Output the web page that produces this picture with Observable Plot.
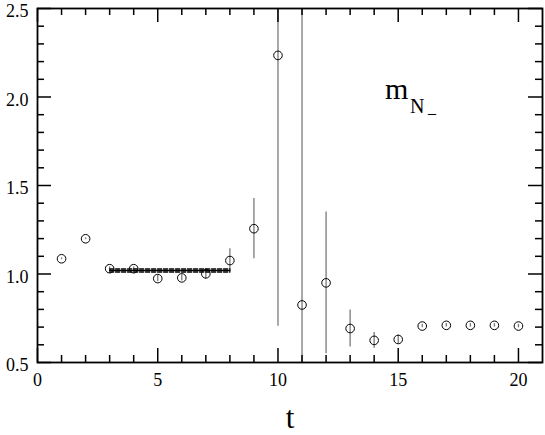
<!DOCTYPE html>
<html><head><meta charset="utf-8">
<script src="https://cdn.jsdelivr.net/npm/d3@7"></script>
<script src="https://cdn.jsdelivr.net/npm/@observablehq/plot@0.6"></script>
<style>body{margin:0;background:#fff} svg text{font-family:"Times New Roman","Liberation Serif","DejaVu Serif",Times,serif !important;}</style>
</head><body><div id="chart"></div>
<script>
const tValues = [1,2,3,4,5,6,7,8,9,10,11,12,13,14,15,16,17,18,19,20];
const mValues = [1.086,1.199,1.030,1.030,0.974,0.978,1.001,1.076,1.256,2.235,0.825,0.950,0.692,0.625,0.630,0.706,0.710,0.710,0.710,0.706];
const mErrors = [0.005,0.005,0.010,0.010,0.018,0.018,0.030,0.066,0.170,1.530,2.000,0.400,0.105,0.045,0.025,0.010,0.010,0.010,0.010,0.010];
const fitRange = [3, 8];
const fitValue = 1.020;
const fitError = 0.008;
const xMajorTicks = [0,5,10,15,20];
const xMinorTicks = [1,2,3,4,6,7,8,9,11,12,13,14,16,17,18,19];
const yMajorTicks = [0.5,1.0,1.5,2.0,2.5];
const yMinorTicks = [0.6,0.7,0.8,0.9,1.1,1.2,1.3,1.4,1.6,1.7,1.8,1.9,2.1,2.2,2.3,2.4];
const labelText = ["m","N","_"];

const data = tValues.map((t,i)=>({t, m:mValues[i], lo:mValues[i]-mErrors[i], hi:mValues[i]+mErrors[i]}));
const fit = fitRange.map(t=>({t, m:fitValue}));

const W=545,H=435, mL=37, mR=3, mT=8, mB=73;
const innerH = H-mT-mB, innerW = W-mL-mR;
const majLen=14, minLen=7;
const font = "'Times New Roman','Liberation Serif','DejaVu Serif',Times,serif";

const chart = Plot.plot({
  width: W, height: H,
  marginLeft: mL, marginRight: mR, marginTop: mT, marginBottom: mB,
  x: {domain:[0,21], axis:null},
  y: {domain:[0.5,2.5], axis:null},
  style: {fontFamily: font, fontSize: "18px", background:"#fff", color:"#000"},
  marks: [
    Plot.ruleX(data, {x:"t", y1:"lo", y2:"hi", stroke:"#7a7a7a", strokeWidth:1.3, clip:true}),
    Plot.line(fit, {x:"t", y:"m", stroke:"#000", strokeWidth:1.5}),
    Plot.line(fit, {x:"t", y:d=>d.m+fitError, stroke:"#000", strokeWidth:1.5, strokeDasharray:"4,2"}),
    Plot.line(fit, {x:"t", y:d=>d.m-fitError, stroke:"#000", strokeWidth:1.5, strokeDasharray:"4,2"}),
    Plot.dot(data, {x:"t", y:"m", r:4.3, stroke:"#000", strokeWidth:1, fill:"none"}),
    Plot.ruleX(xMajorTicks, {x:d=>d, insetTop: innerH-majLen, stroke:"#000", strokeWidth:1.5}),
    Plot.ruleX(xMinorTicks, {x:d=>d, insetTop: innerH-minLen, stroke:"#000", strokeWidth:1.5}),
    Plot.ruleX(xMajorTicks, {x:d=>d, insetBottom: innerH-majLen, stroke:"#000", strokeWidth:1.5}),
    Plot.ruleX(xMinorTicks, {x:d=>d, insetBottom: innerH-minLen, stroke:"#000", strokeWidth:1.5}),
    Plot.ruleY(yMajorTicks, {y:d=>d, insetRight: innerW-majLen, stroke:"#000", strokeWidth:1.5}),
    Plot.ruleY(yMinorTicks, {y:d=>d, insetRight: innerW-minLen, stroke:"#000", strokeWidth:1.5}),
    Plot.ruleY(yMajorTicks, {y:d=>d, insetLeft: innerW-majLen, stroke:"#000", strokeWidth:1.5}),
    Plot.ruleY(yMinorTicks, {y:d=>d, insetLeft: innerW-minLen, stroke:"#000", strokeWidth:1.5}),
    Plot.frame({stroke:"#000", strokeWidth:1.8}),
    Plot.axisX(xMajorTicks, {tickSize:0, tickPadding:11, tickFormat:d=>String(d), fontSize:18, label:null}),
    Plot.axisY(yMajorTicks, {tickSize:0, tickPadding:9, tickFormat:d3.format(".1f"), fontSize:18, dy:3, label:null}),
    Plot.text(["t"], {frameAnchor:"bottom", dy:65, lineAnchor:"bottom", fontSize:31, text:d=>d}),
    Plot.text([labelText[0]], {x:14.45, y:1.99, text:d=>d, textAnchor:"start", lineAnchor:"bottom", fontSize:30}),
    Plot.text([labelText[1]], {x:14.45, y:1.99, dx:25, dy:14, text:d=>d, textAnchor:"start", lineAnchor:"bottom", fontSize:20}),
    Plot.text([labelText[2]], {x:14.45, y:1.99, dx:43, dy:14, text:d=>d, textAnchor:"start", lineAnchor:"bottom", fontSize:16})
  ]
});
document.getElementById("chart").appendChild(chart);
</script>
</body></html>
